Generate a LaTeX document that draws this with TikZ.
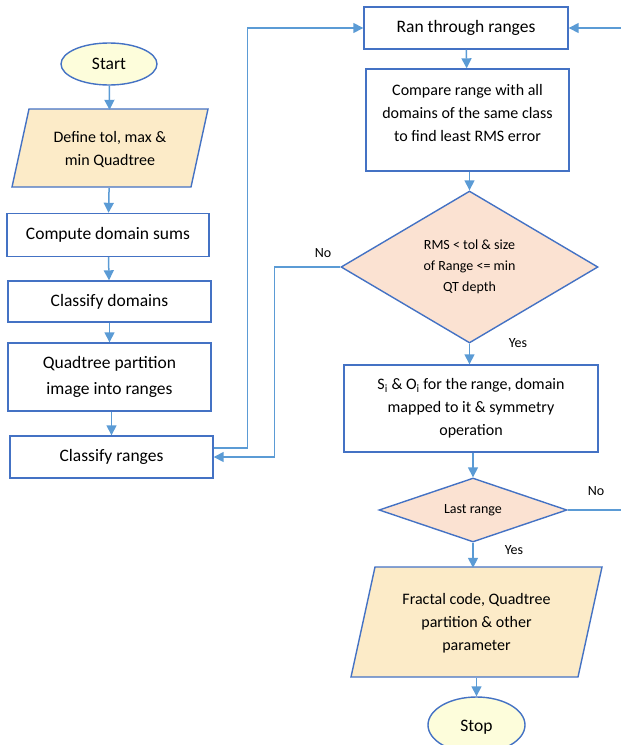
\documentclass[tikz,border=0pt]{standalone}
\usepackage{fontspec}
\setmainfont{Carlito}
\usetikzlibrary{arrows.meta,shapes.geometric}
\definecolor{edgeblue}{HTML}{4472C4}
\definecolor{arrowblue}{HTML}{5B9BD5}
\definecolor{termfill}{HTML}{FDFDDB}
\definecolor{iofill}{HTML}{FCEBC8}
\definecolor{decfill}{HTML}{FBE2D2}
\tikzset{
  procbox/.style={draw=edgeblue,line width=1.4pt,fill=white,align=center,inner sep=0pt},
  term/.style={ellipse,draw=edgeblue,line width=1.4pt,fill=termfill,inner sep=0pt},
  decision/.style={diamond,draw=edgeblue,line width=1.4pt,fill=decfill,inner sep=0pt,align=center},
  flow/.style={draw=arrowblue,line width=1.5pt,-{Triangle[length=10pt,width=10pt]}},
  bigtxt/.style={font=\fontsize{17.5}{26}\selectfont},
  midtxt/.style={font=\fontsize{16}{23}\selectfont},
  smalltxt/.style={font=\fontsize{14}{21}\selectfont},
}
\begin{document}
\begin{tikzpicture}[x=1pt,y=-1pt]
\useasboundingbox (0,0) rectangle (621,745);
\clip (0,0) rectangle (621,745);

% left column
\node[term,bigtxt,minimum width=96pt,minimum height=42pt] (start) at (109,64) {Start};
\fill[iofill] (29,109) -- (208,109) -- (191,187) -- (12,187) -- cycle;
\draw[edgeblue,line width=1.4pt] (29,109) -- (208,109) -- (191,187) -- (12,187) -- cycle;
\node[midtxt,align=center,minimum width=179pt,minimum height=78pt,inner sep=0pt] (define) at (110,149) {Define tol, max \&\\min Quadtree};
\node[procbox,bigtxt,minimum width=202pt,minimum height=43pt] (csums) at (108,235) {Compute domain sums};
\node[procbox,bigtxt,minimum width=203pt,minimum height=41pt] (cdom) at (109.5,301.5) {Classify domains};
\node[procbox,bigtxt,minimum width=203pt,minimum height=68pt] (qpart) at (109.5,377) {Quadtree partition\\image into ranges};
\node[procbox,bigtxt,minimum width=203pt,minimum height=42pt] (cr) at (111.5,457) {Classify ranges};

% right column
\node[procbox,bigtxt,minimum width=204pt,minimum height=42pt] (ran) at (466,28) {Ran through ranges};
\node[procbox,minimum width=203pt,minimum height=102pt] (cmp) at (467.5,120) {};
\node[midtxt,align=center] (cmptxt) at (467.5,113) {Compare range with all\\domains of the same class\\to find least RMS error};
\node[decision,smalltxt,minimum width=257pt,minimum height=152pt,aspect=1.69] (d1) at (469.5,267) {RMS < tol \& size\\of Range <= min\\QT depth};
\node[procbox,midtxt,minimum width=254pt,minimum height=87pt] (sio) at (471,408.5) {S\textsubscript{i} \& O\textsubscript{i} for the range, domain\\mapped to it \& symmetry\\operation};
\node[decision,smalltxt,minimum width=188pt,minimum height=64pt,aspect=2.94] (d2) at (473,510) {Last range};
\fill[iofill] (375,567) -- (602,567) -- (578,677) -- (351,677) -- cycle;
\draw[edgeblue,line width=1.4pt] (375,567) -- (602,567) -- (578,677) -- (351,677) -- cycle;
\node[midtxt,align=center,minimum width=227pt,minimum height=110pt,inner sep=0pt] (out) at (476.5,623) {Fractal code, Quadtree\\partition \& other\\parameter};
\node[term,bigtxt,minimum width=97pt,minimum height=56pt] (stop) at (476.5,725) {};
\node[bigtxt] (stoptxt) at (476.5,727) {Stop};

% off-page ends of the loop-back line
\coordinate (loopin) at (621,28);
\coordinate (loopout) at (621,510);

% straight flow
\draw[flow] (start) -- (define);
\draw[flow] (define) -- (csums);
\draw[flow] (csums) -- (cdom);
\draw[flow] (cdom) -- (qpart);
\draw[flow] (qpart.south -| cr.north) -- (cr.north);
\draw[flow] ([yshift=9pt]cr.east) -- ++(34pt,0) |- (ran.west);
\draw[flow] (ran) -- (cmp);
\draw[flow] (cmp.south -| d1.north) -- (d1.north);
\draw[flow] (d1) -- (sio.north -| d1.south);
\draw[flow] (sio.south -| d2.north) -- (d2.north);
\draw[flow] (d2.south) -- (out.north -| d2.south);
\draw[flow] (out.south -| stop.north) -- (stop.north);

% branches
\draw[flow] (d1.west) -- ++(-66pt,0) |- (cr.east);
\draw[arrowblue,line width=1.5pt] (d2.east) -- (loopout);
\draw[flow] (loopin) -- (ran.east);

% branch labels
\node[smalltxt] (no1) at (323,253) {No};
\node[smalltxt] (yes1) at (518,343) {Yes};
\node[smalltxt] (no2) at (596,491) {No};
\node[smalltxt] (yes2) at (514,550) {Yes};
\end{tikzpicture}
\end{document}
